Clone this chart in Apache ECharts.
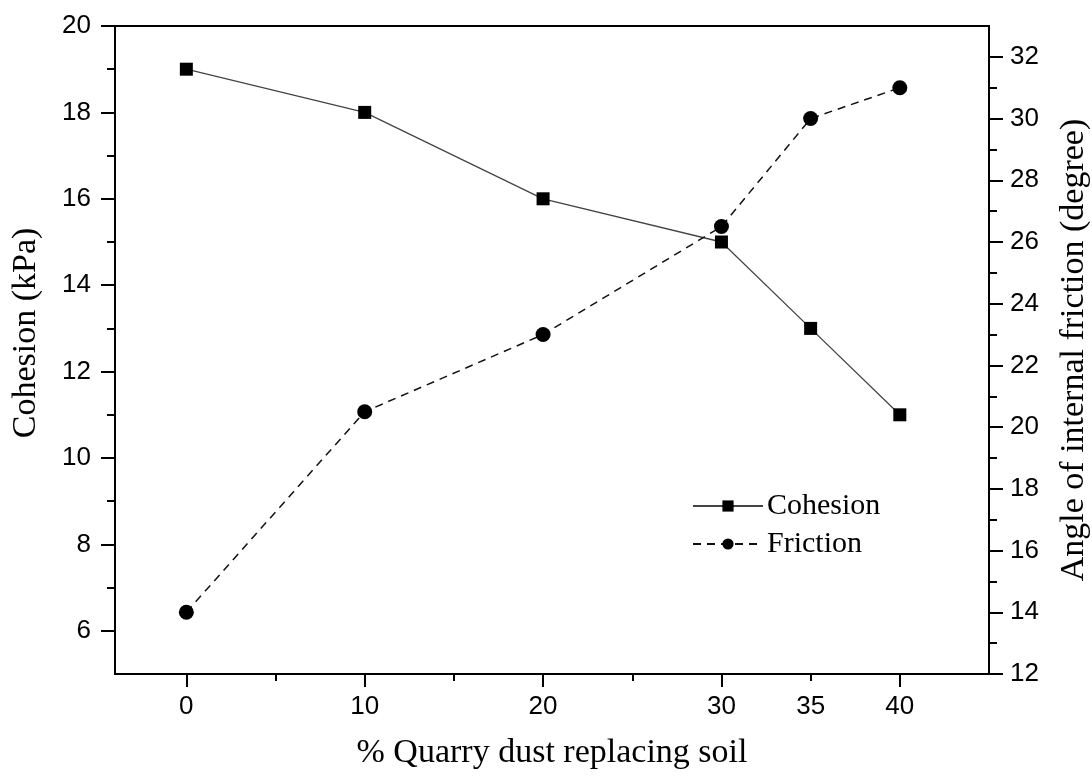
<!DOCTYPE html>
<html>
<head>
<meta charset="utf-8">
<title>Cohesion and friction vs quarry dust</title>
<script src="https://cdn.jsdelivr.net/npm/echarts@6/dist/echarts.min.js"></script>
<style>
  html, body { margin: 0; padding: 0; background: #fff; }
  #chart { width: 1092px; height: 783px; }
</style>
</head>
<body>
<div id="chart"></div>
<script>
// % quarry dust replacing soil
const percentDust = [0, 10, 20, 30, 35, 40];
// Cohesion (kPa)
const cohesion = [19, 18, 16, 15, 13, 11];
// Angle of internal friction (degree)
const friction = [14, 20.5, 23, 26.5, 30, 31];

// Tick and label positions
const xLabelValues = [0, 10, 20, 30, 35, 40];
const xMajorTicks = [0, 10, 20, 30, 40];
const xMinorTicks = [5, 15, 25, 35];
const cohesionTicks = [6, 8, 10, 12, 14, 16, 18, 20];
const cohesionMinorTicks = [7, 9, 11, 13, 15, 17, 19];
const frictionTicks = [12, 14, 16, 18, 20, 22, 24, 26, 28, 30, 32];
const frictionMinorTicks = [13, 15, 17, 19, 21, 23, 25, 27, 29, 31];

const SANS = '"Liberation Sans", Arial, sans-serif';
const SERIF = '"Liberation Serif", "Times New Roman", serif';
const INK = '#000';

const X_RANGE = { min: -4, max: 45 };
const Y1_RANGE = { min: 5, max: 20 };
const Y2_RANGE = { min: 12, max: 33 };

function pairs(xs, ys) {
  return xs.map((x, i) => [x, ys[i]]);
}

// An extra axis that only draws the short minor ticks
function minorAxis(base, position, ticks, len) {
  return Object.assign({
    type: 'value',
    position: position,
    axisLine: { show: false, onZero: false },
    axisTick: { show: true, inside: false, length: len, customValues: ticks,
                lineStyle: { color: INK, width: 2 } },
    axisLabel: { show: false },
    splitLine: { show: false }
  }, base);
}

const chart = echarts.init(document.getElementById('chart'), null, { renderer: 'canvas' });

chart.setOption({
  animation: false,
  backgroundColor: '#fff',
  grid: {
    left: 115, right: 103, top: 26, bottom: 109,
    containLabel: false,
    outerBoundsMode: 'none',
    show: true,
    borderColor: INK,
    borderWidth: 2,
    backgroundColor: 'transparent'
  },
  legend: {
    orient: 'vertical',
    left: 687,
    top: 486,
    itemWidth: 70,
    itemHeight: 14,
    itemGap: 8,
    textStyle: { fontFamily: SERIF, fontSize: 30, color: INK, lineHeight: 30, padding: [0, 0, 0, -1] },
    data: ['Cohesion', 'Friction']
  },
  xAxis: [
    {
      type: 'value',
      position: 'bottom',
      min: X_RANGE.min, max: X_RANGE.max,
      name: '% Quarry dust replacing soil',
      nameLocation: 'middle',
      nameGap: 62,
      nameTextStyle: { fontFamily: SERIF, fontSize: 34, color: INK },
      axisLine: { show: true, onZero: false, lineStyle: { color: INK, width: 2 } },
      axisTick: { show: true, inside: false, length: 13, customValues: xMajorTicks,
                  lineStyle: { color: INK, width: 2 } },
      axisLabel: { show: true, margin: 20, customValues: xLabelValues,
                   fontFamily: SANS, fontSize: 26, color: INK },
      splitLine: { show: false }
    },
    minorAxis(X_RANGE, 'bottom', xMinorTicks, 7)
  ],
  yAxis: [
    {
      type: 'value',
      position: 'left',
      min: Y1_RANGE.min, max: Y1_RANGE.max,
      name: 'Cohesion (kPa)',
      nameLocation: 'middle',
      nameRotate: 90,
      nameGap: 72,
      nameTextStyle: { fontFamily: SERIF, fontSize: 34, color: INK, padding: [0, 0, 0, 34] },
      axisLine: { show: true, onZero: false, lineStyle: { color: INK, width: 2 } },
      axisTick: { show: true, inside: false, length: 14, customValues: cohesionTicks,
                  lineStyle: { color: INK, width: 2 } },
      axisLabel: { show: true, margin: 24, customValues: cohesionTicks,
                   fontFamily: SANS, fontSize: 26, color: INK },
      splitLine: { show: false }
    },
    {
      type: 'value',
      position: 'right',
      min: Y2_RANGE.min, max: Y2_RANGE.max,
      name: 'Angle of internal friction (degree)',
      nameLocation: 'middle',
      nameRotate: 90,
      nameGap: 68,
      nameTextStyle: { fontFamily: SERIF, fontSize: 34, color: INK },
      axisLine: { show: true, onZero: false, lineStyle: { color: INK, width: 2 } },
      axisTick: { show: true, inside: false, length: 14, customValues: frictionTicks,
                  lineStyle: { color: INK, width: 2 } },
      axisLabel: { show: true, margin: 21, customValues: frictionTicks,
                   fontFamily: SANS, fontSize: 26, color: INK },
      splitLine: { show: false }
    },
    minorAxis(Y1_RANGE, 'left', cohesionMinorTicks, 8),
    minorAxis(Y2_RANGE, 'right', frictionMinorTicks, 8)
  ],
  series: [
    {
      name: 'Cohesion',
      type: 'line',
      xAxisIndex: 0,
      yAxisIndex: 0,
      data: pairs(percentDust, cohesion),
      symbol: 'rect',
      symbolSize: 13,
      itemStyle: { color: '#000' },
      lineStyle: { color: '#444', width: 1.3, type: 'solid' },
      z: 3
    },
    {
      name: 'Friction',
      type: 'line',
      xAxisIndex: 0,
      yAxisIndex: 1,
      data: pairs(percentDust, friction),
      symbol: 'circle',
      symbolSize: 15,
      itemStyle: { color: '#000' },
      lineStyle: { color: '#111', width: 1.5, type: [8, 6] },
      z: 3
    }
  ]
});
</script>
</body>
</html>
